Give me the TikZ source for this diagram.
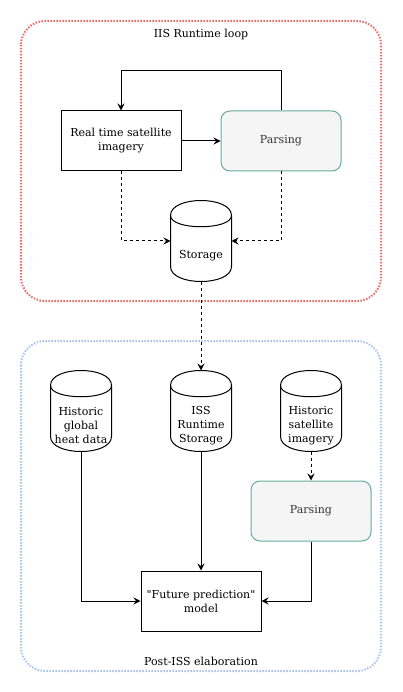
\documentclass[tikz,border=0pt]{standalone}
\usepackage{fontspec}
\setmainfont{DejaVu Serif}
\usepackage{tikz}
\usetikzlibrary{arrows.meta}

\definecolor{loopred}{HTML}{EA6B66}
\definecolor{elabblue}{HTML}{A9C4EB}
\definecolor{parseline}{HTML}{67AB9F}
\definecolor{parsefill}{HTML}{F5F5F5}
\definecolor{parsetext}{HTML}{333333}

\tikzset{
  box/.style={draw,minimum width=120pt,minimum height=60pt,align=center,inner sep=2pt},
  parsebox/.style={draw=parseline,fill=parsefill,text=parsetext,rounded corners=9pt,minimum width=120pt,minimum height=60pt},
  drumbody/.style={minimum width=60pt,minimum height=50pt,align=center,inner sep=0pt},
  flow/.style={-{Stealth[length=7pt,width=7pt,inset=2.5pt]}},
  store/.style={flow,dash pattern=on 3pt off 3pt},
  frame/.style={line width=2pt,dash pattern=on 1.5pt off 1.5pt,rounded corners=24pt}
}

% cylinder round a body node
\newcommand{\drum}[1]{%
\draw ([yshift=15pt]#1.north west) .. controls ([yshift=35pt]#1.north west) and ([yshift=35pt]#1.north east) .. ([yshift=15pt]#1.north east)
  -- ([yshift=15pt]#1.south east) .. controls ([yshift=-5pt]#1.south east) and ([yshift=-5pt]#1.south west) .. ([yshift=15pt]#1.south west) -- cycle;
\draw ([yshift=15pt]#1.north west) .. controls (#1.north west) and (#1.north east) .. ([yshift=15pt]#1.north east);}

\begin{document}
\begin{tikzpicture}[x=1pt,y=-1pt,line width=1pt,font=\fontsize{11}{14}\selectfont]

\useasboundingbox (0,0) rectangle (402,692);

\draw[frame,loopred] (21,21) rectangle (381,301);
\draw[frame,elabblue] (21,341) rectangle (381,671);
\node (looptitle) at (201,34) {IIS Runtime loop};
\node (elabtitle) at (201,661) {Post-ISS elaboration};

\node[box] (rtsat) at (121,141) {Real time satellite\\imagery};
\node[parsebox] (parse) at (281,141) {Parsing};
\node[drumbody] (stor) at (201,256) {Storage};
\drum{stor}

\node[drumbody] (heat) at (81,426) {Historic\\global\\heat data};
\node[drumbody] (iss) at (201,426) {ISS\\Runtime\\Storage};
\node[drumbody] (histsat) at (311,426) {Historic\\satellite\\imagery};
\drum{heat}
\drum{iss}
\drum{histsat}
\node[parsebox] (parse2) at (311,511) {Parsing};
\node[box] (model) at (201,601) {\textquotedbl Future prediction\textquotedbl\\model};

% runtime loop
\draw[flow] (rtsat) -- (parse);
\draw[flow] (parse.north) -- ++(0,-40) -| (rtsat.north);
\draw[store] (rtsat.south) |- ([yshift=15pt]stor.west);
\draw[store] (parse.south) |- ([yshift=15pt]stor.east);
\draw[store] (stor.south) -- ([yshift=30pt]iss.north);

% elaboration
\draw[store] (histsat.south) -- (parse2.north);
\draw[flow] (heat.south) |- (model.west);
\draw[flow] (iss.south) -- (model.north);
\draw[flow] (parse2.south) |- (model.east);

\end{tikzpicture}
\end{document}
